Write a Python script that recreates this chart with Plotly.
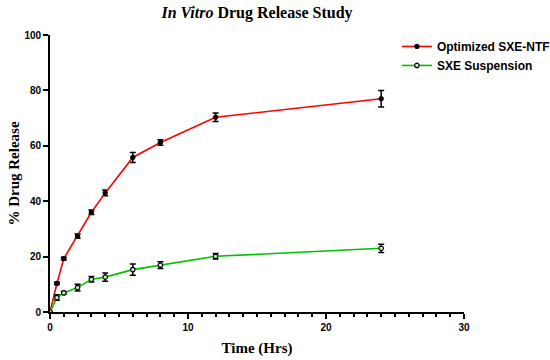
import plotly.graph_objects as go

time_hrs = [0, 0.5, 1, 2, 3, 4, 6, 8, 12, 24]
ntf_release = [0, 10.3, 19.3, 27.4, 36.0, 43.0, 55.8, 61.2, 70.3, 77.0]
ntf_err = [0, 0.4, 0.5, 0.8, 0.8, 1.0, 1.8, 1.0, 1.5, 3.0]
susp_release = [0, 5.2, 6.9, 8.8, 11.8, 12.6, 15.3, 16.9, 20.1, 23.0]
susp_err = [0, 1.0, 0.5, 1.2, 1.0, 1.5, 2.0, 1.2, 1.0, 1.5]

fig = go.Figure()
fig.add_trace(go.Scatter(
    x=time_hrs, y=ntf_release, name="<b>Optimized SXE-NTF</b>", mode="lines+markers",
    line=dict(color="#ff0000", width=1.6),
    marker=dict(color="black", size=4.5, line=dict(color="black", width=1)),
    error_y=dict(type="data", array=ntf_err, color="black", thickness=1.5, width=3),
))
fig.add_trace(go.Scatter(
    x=time_hrs, y=susp_release, name="<b>SXE Suspension</b>", mode="lines+markers",
    line=dict(color="#00c000", width=1.6),
    marker=dict(color="#c8f0c8", size=4.5, line=dict(color="black", width=1.2)),
    error_y=dict(type="data", array=susp_err, color="black", thickness=1.5, width=3),
))

tickfont = dict(family="Liberation Sans, Arial, sans-serif", size=10, color="black")
fig.update_layout(
    width=550, height=360,
    margin=dict(l=50, r=86, t=35, b=48, autoexpand=False),
    paper_bgcolor="white", plot_bgcolor="white",
    title=dict(text="<b><i>In Vitro</i> Drug Release Study</b>", x=257 / 550, xanchor="center",
               y=1 - 12 / 360, yanchor="middle",
               font=dict(family="Liberation Serif, Times New Roman, serif", size=16, color="black")),
    legend=dict(x=0.838, y=1.011, xanchor="left", yanchor="top", bgcolor="rgba(0,0,0,0)",
                font=dict(family="Liberation Sans, Arial, sans-serif", size=12, color="black"),
                itemwidth=30, tracegroupgap=0),
    font=dict(family="Liberation Sans, Arial, sans-serif", color="black"),
)
fig.update_xaxes(
    range=[0, 30], tickvals=[0, 10, 20, 30], ticktext=["<b>0</b>", "<b>10</b>", "<b>20</b>", "<b>30</b>"],
    ticks="outside", ticklen=5, tickwidth=1.5, tickcolor="black", automargin=False,
    minor=dict(dtick=1, ticks="outside", ticklen=3, tickwidth=1.5, tickcolor="black", showgrid=False),
    showline=True, linecolor="black", linewidth=1.8, showgrid=False, zeroline=False,
    tickfont=tickfont,
    title=dict(text="<b>Time (Hrs)</b>", standoff=11,
               font=dict(family="Liberation Serif, Times New Roman, serif", size=15, color="black")),
)
fig.update_yaxes(
    range=[0, 100], tickvals=[0, 20, 40, 60, 80, 100],
    ticktext=["<b>0</b>", "<b>20</b>", "<b>40</b>", "<b>60</b>", "<b>80</b>", "<b>100</b>"],
    ticks="outside", ticklen=5, tickwidth=1.5, tickcolor="black", automargin=False,
    showline=True, linecolor="black", linewidth=1.8, showgrid=False, zeroline=False,
    tickfont=tickfont,
    title=dict(text="<b>% Drug Release</b>", standoff=1,
               font=dict(family="Liberation Serif, Times New Roman, serif", size=15, color="black")),
)
fig.write_html("out.html", config={"displayModeBar": False},
               post_script="document.body.style.margin='0';")
